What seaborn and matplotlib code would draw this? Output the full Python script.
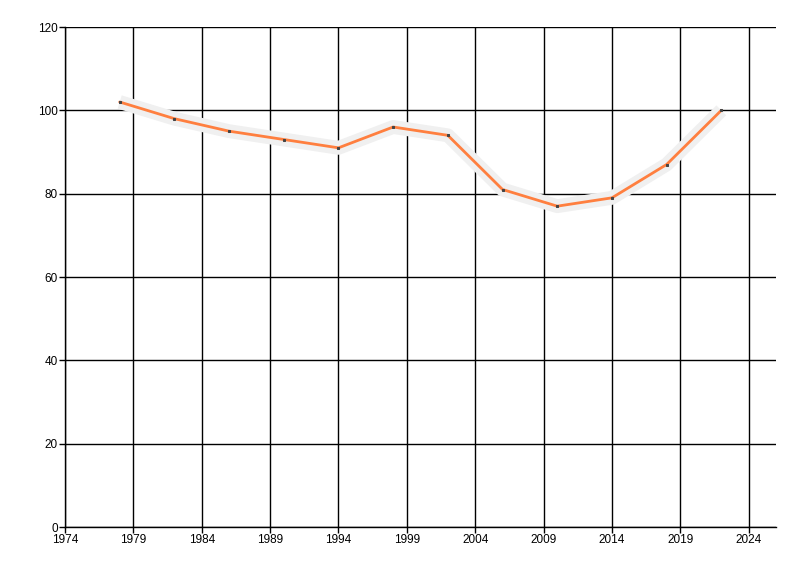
import matplotlib
matplotlib.use("Agg")

import matplotlib.pyplot as plt
import seaborn as sns
import pandas as pd

years = [1978, 1982, 1986, 1990, 1994, 1998, 2002, 2006, 2010, 2014, 2018, 2022]
values = [102, 98, 95, 93, 91, 96, 94, 81, 77, 79, 87, 100]
x_ticks = [1974, 1979, 1984, 1989, 1994, 1999, 2004, 2009, 2014, 2019, 2024]
y_ticks = [0, 20, 40, 60, 80, 100, 120]

df = pd.DataFrame({"year": years, "value": values})

sns.set_theme(style="white")
plt.rcParams["font.family"] = ["Liberation Sans", "DejaVu Sans"]

fig = plt.figure(figsize=(8, 5.76), dpi=100)
ax = fig.add_axes([65 / 800, 1 - 527 / 576, (776 - 65) / 800, (527 - 27) / 576])

# soft grey band behind the line
sns.lineplot(data=df, x="year", y="value", ax=ax, color="#f0f0f0",
             linewidth=10, solid_joinstyle="round",
             solid_capstyle="butt", zorder=2)
sns.lineplot(data=df, x="year", y="value", ax=ax, color="#ff7f3f",
             linewidth=2, marker="s", markersize=1.5,
             markerfacecolor="#444444", markeredgecolor="#444444", zorder=3)

ax.set_xlim(1974, 2026)
ax.set_ylim(0, 120)
ax.set_xticks(x_ticks)
ax.set_yticks(y_ticks)
ax.grid(True, color="black", linewidth=1)
ax.set_axisbelow(True)
for s in ["top", "right"]:
    ax.spines[s].set_visible(False)
for s in ["left", "bottom"]:
    ax.spines[s].set_color("black")
    ax.spines[s].set_linewidth(1)
ax.tick_params(axis="both", which="major", direction="out", length=4,
               width=1, color="black", labelsize=8.5, labelcolor="black",
               left=True, bottom=True, pad=1)
ax.set_xlabel("")
ax.set_ylabel("")

fig.savefig("out.png", dpi=100)
